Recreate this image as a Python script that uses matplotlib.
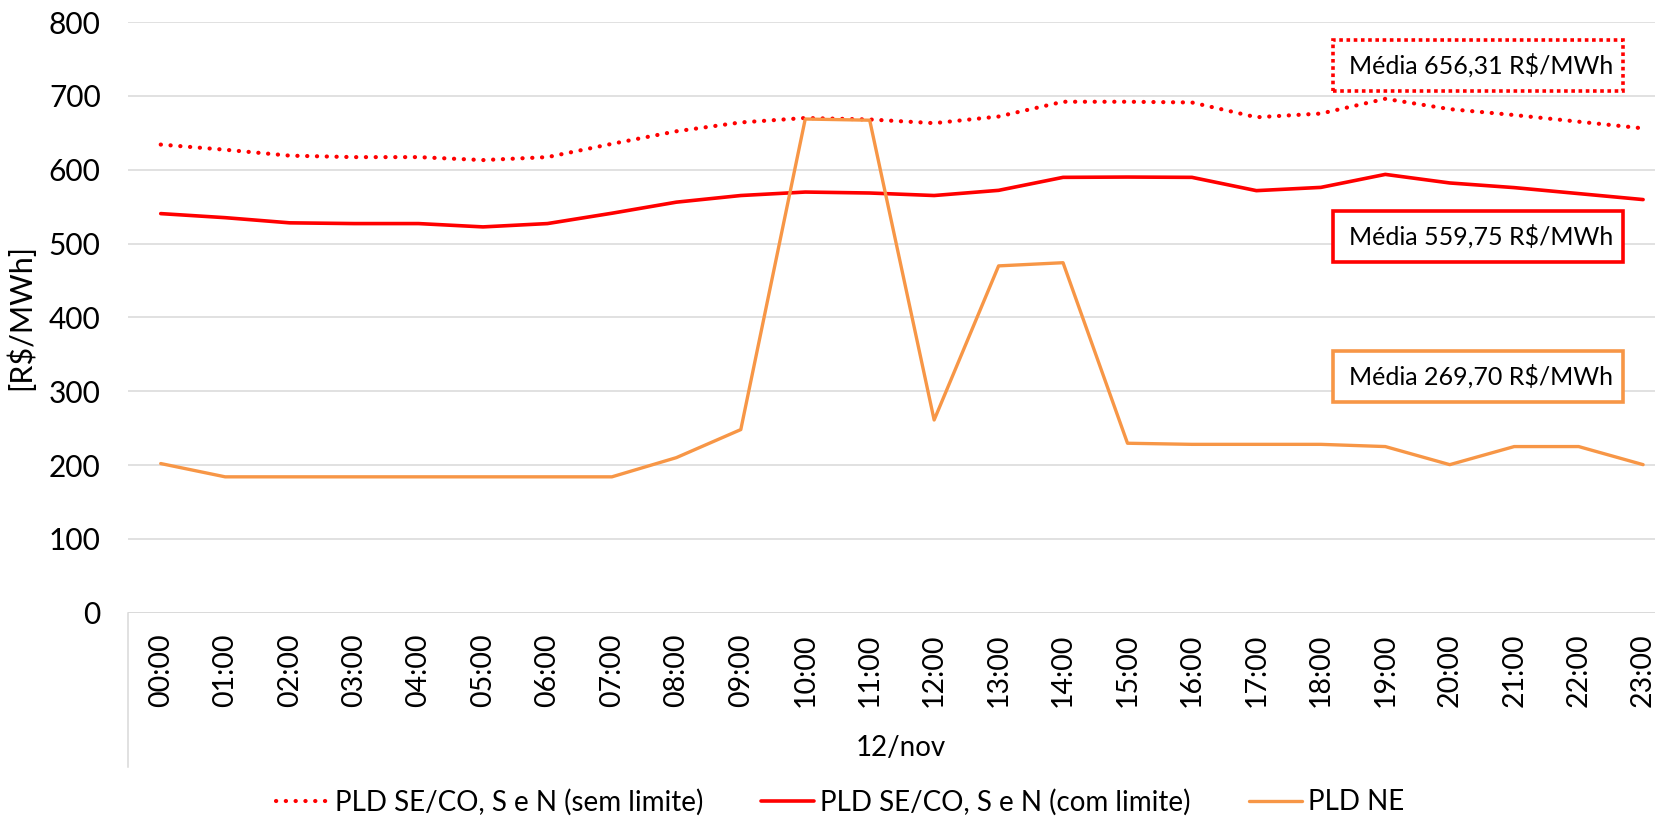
import matplotlib
matplotlib.use("Agg")
import matplotlib.pyplot as plt
from matplotlib.patches import Rectangle
from matplotlib.lines import Line2D

plt.rcParams['font.family'] = ['Lato', 'DejaVu Sans']

hours = ["00:00", "01:00", "02:00", "03:00", "04:00", "05:00", "06:00", "07:00",
         "08:00", "09:00", "10:00", "11:00", "12:00", "13:00", "14:00", "15:00",
         "16:00", "17:00", "18:00", "19:00", "20:00", "21:00", "22:00", "23:00"]
pld_sem_limite = [634, 627, 619, 617, 617, 613, 617, 635, 652, 664, 670, 668,
                  663, 672, 692, 692, 691, 671, 676, 696, 682, 674, 665, 656]
pld_com_limite = [540.5, 535, 528, 527, 527, 522.5, 527, 541, 556, 565, 569.7, 568.4,
                  565, 572, 589.6, 590, 589.6, 571.6, 576, 593.6, 582, 575.7, 567.6, 559.5]
pld_ne = [202, 184, 184, 184, 184, 184, 184, 184, 210, 248, 668.6, 667,
          261, 469.7, 474, 229.5, 228, 228, 228, 225, 200.5, 225, 225, 200.5]
series_labels = ["PLD SE/CO, S e N (sem limite)", "PLD SE/CO, S e N (com limite)", "PLD NE"]
media_texts = ["Média 656,31 R$/MWh", "Média 559,75 R$/MWh", "Média 269,70 R$/MWh"]
date_label = "12/nov"
y_label = "[R$/MWh]"

RED = "#FF0000"
ORANGE = "#F79646"
GRID = "#D9D9D9"

W, H = 1656, 816
fig = plt.figure(figsize=(W / 100, H / 100), dpi=100)
ax = fig.add_axes([128.5 / W, 1 - 612.7 / H, 1 - 128.5 / W, (612.7 - 22) / H])

x = list(range(len(hours)))
l1, = ax.plot(x, pld_sem_limite, color=RED, lw=3.0, linestyle=(0, (0.05, 2.3)),
              dash_capstyle='round', solid_capstyle='round', zorder=3)
l2, = ax.plot(x, pld_com_limite, color=RED, lw=2.6, solid_capstyle='round', zorder=3)
l3, = ax.plot(x, pld_ne, color=ORANGE, lw=2.4, solid_capstyle='round', zorder=3)

ax.set_xlim(-0.5, 23.2)
ax.set_ylim(0, 800)
ax.set_yticks(range(0, 801, 100))
ax.set_xticks(x)
ax.set_xticklabels(hours, rotation=90, fontsize=20.5)
ax.tick_params(axis='y', length=0, pad=20, labelsize=21.5)
ax.tick_params(axis='x', length=0, pad=15)
ax.grid(axis='y', color=GRID, lw=1.1)
ax.set_axisbelow(True)
for s in ax.spines.values():
    s.set_visible(False)

# left border line of the category axis area
ax.add_line(Line2D([-0.5, -0.5], [0, -0.261 * 800], color=GRID, lw=1.1,
                   clip_on=False, transform=ax.transData))
ax.axhline(0, color=GRID, lw=1.1, zorder=1)

fig.text(901 / W, 1 - 748 / H, date_label, ha='center', va='center', fontsize=20)
fig.text(21 / W, 1 - 317 / H, y_label, ha='center', va='center', rotation=90, fontsize=22)

# mean boxes
boxes = [(40, 91, RED, (0, (1, 1))), (211, 262, RED, 'solid'), (351, 402, ORANGE, 'solid')]
for (top, bot, col, ls), txt in zip(boxes, media_texts):
    r = Rectangle((1333 / W, 1 - bot / H), (1623 - 1333) / W, (bot - top) / H,
                  transform=fig.transFigure, facecolor='white', edgecolor=col,
                  lw=2.6, linestyle=ls, zorder=5)
    r.set_capstyle('butt')
    fig.add_artist(r)
    fig.text(1481 / W, 1 - (top + bot) / 2 / H, txt, ha='center', va='center',
             fontsize=18, zorder=6)

leg = fig.legend([l1, l2, l3], series_labels, loc='center', ncol=3,
                 bbox_to_anchor=(840 / W, 1 - 802 / H), frameon=False,
                 fontsize=20, handlelength=1.9, handletextpad=0.22, columnspacing=2.1,
                 borderpad=0, borderaxespad=0)

fig.savefig("out.png", dpi=100, facecolor='white')
